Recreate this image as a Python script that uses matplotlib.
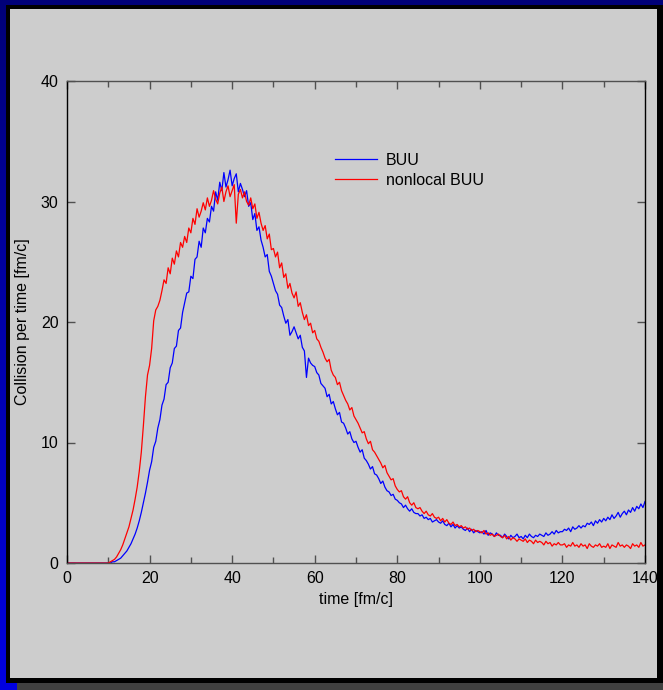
import numpy as np
import matplotlib
matplotlib.use("Agg")
import matplotlib.pyplot as plt
from matplotlib.patches import Rectangle
from matplotlib.colors import LinearSegmentedColormap

plt.rcParams['font.family'] = ['Liberation Sans', 'DejaVu Sans']

# time grid: t=0 then 10..140 step 0.5 fm/c
time = np.concatenate([[0.0], np.arange(10.0, 140.01, 0.5)])

buu = [0.0,
    0.0,0.0,0.1,0.1,0.2,0.3,0.4,0.6,0.8,1.0,
    1.3,1.6,2.0,2.4,2.9,3.5,4.2,5.0,5.8,6.7,
    7.7,8.4,9.6,10.1,11.2,11.9,13.1,13.6,14.8,15.0,
    16.2,16.6,17.8,18.0,19.3,19.5,20.8,21.6,22.4,22.5,
    23.8,23.6,25.2,25.4,26.7,26.2,27.8,27.4,28.6,28.3,
    29.6,29.2,30.8,30.1,31.6,30.9,32.4,31.2,31.8,32.6,
    31.3,31.9,32.3,30.8,31.5,31.0,30.4,30.9,29.6,29.9,
    28.5,29.0,27.6,27.9,26.8,26.2,25.4,25.6,24.2,23.8,
    23.2,22.6,22.3,21.4,21.2,20.5,19.9,20.2,18.9,19.2,
    19.6,19.1,18.6,18.9,17.9,17.6,15.4,17.0,16.6,16.4,
    16.3,15.8,15.6,14.9,14.7,14.5,13.8,14.0,13.2,13.4,
    12.8,12.3,12.5,11.7,11.6,11.2,10.7,10.9,10.3,10.0,
    10.1,9.6,9.2,9.4,8.7,8.5,8.2,7.8,8.0,7.4,
    7.3,7.0,6.6,6.8,6.3,6.0,5.9,5.6,5.7,5.3,
    5.2,5.0,4.9,4.6,4.8,4.5,4.3,4.5,4.2,4.1,
    4.1,3.9,4.0,3.7,3.8,3.6,3.7,3.4,3.5,3.6,
    3.4,3.3,3.5,3.2,3.1,3.3,3.0,3.2,2.9,3.1,
    2.9,3.0,2.8,2.7,2.9,2.6,2.8,2.5,2.7,2.6,
    2.5,2.6,2.4,2.7,2.3,2.5,2.4,2.2,2.5,2.3,
    2.3,2.1,2.4,2.2,2.0,2.3,2.1,2.2,2.4,2.1,
    2.2,2.0,2.3,2.1,2.4,2.2,2.1,2.3,2.2,2.4,
    2.3,2.2,2.5,2.3,2.4,2.6,2.4,2.7,2.5,2.6,
    2.6,2.8,2.7,2.9,2.6,3.0,2.8,2.9,3.1,2.9,
    3.1,3.0,3.3,3.2,3.4,3.1,3.5,3.3,3.6,3.4,
    3.7,3.5,3.8,3.6,4.0,3.7,3.9,4.2,3.8,4.1,
    4.3,4.0,4.4,4.2,4.6,4.3,4.7,4.5,4.9,4.6,
    5.1]

nonlocal_buu = [0.0,
    0.0,0.1,0.2,0.3,0.5,0.8,1.1,1.5,2.0,2.5,
    3.0,3.7,4.4,5.3,6.3,7.6,9.2,11.4,13.8,15.6,
    16.4,17.8,20.1,21.0,21.3,21.8,22.6,23.5,23.2,24.5,
    24.0,25.3,24.8,25.9,25.4,26.6,26.2,27.1,26.6,27.8,
    27.4,28.6,28.1,29.4,28.7,29.2,29.9,29.3,30.3,29.6,
    30.1,30.9,30.2,29.8,30.7,31.2,30.0,30.8,31.3,30.4,
    30.9,31.4,28.2,30.6,31.0,30.3,30.8,30.0,29.7,30.3,
    29.4,29.8,28.6,29.1,28.2,27.6,28.0,26.9,27.3,26.0,
    26.1,25.4,25.8,24.5,24.9,23.7,24.0,22.8,23.2,22.4,
    22.0,22.5,21.3,21.6,20.8,20.2,20.6,19.7,19.9,19.1,
    19.3,18.6,18.4,17.9,17.5,17.0,16.7,16.9,16.0,15.6,
    15.4,14.8,15.0,14.3,13.9,13.5,13.2,12.7,12.9,12.2,
    11.9,11.6,11.2,10.8,10.9,10.3,9.9,10.1,9.4,9.2,
    8.9,8.6,8.3,7.9,8.1,7.5,7.2,6.9,7.0,6.4,
    6.1,5.9,6.0,5.5,5.3,5.5,5.0,4.8,5.0,4.6,
    4.5,4.6,4.3,4.1,4.3,4.0,3.9,4.1,3.8,3.7,
    3.8,3.5,3.7,3.4,3.6,3.3,3.2,3.4,3.1,3.2,
    3.0,3.1,2.9,3.0,2.8,2.9,2.7,2.8,2.6,2.7,
    2.6,2.5,2.7,2.4,2.5,2.3,2.4,2.2,2.3,2.4,
    2.2,2.1,2.3,2.0,2.2,1.9,2.1,2.0,1.8,2.0,
    1.9,1.8,2.0,1.7,1.9,1.8,1.6,1.9,1.7,1.8,
    1.7,1.5,1.8,1.6,1.7,1.4,1.6,1.5,1.7,1.5,
    1.5,1.6,1.3,1.5,1.4,1.7,1.4,1.5,1.3,1.6,
    1.4,1.5,1.2,1.6,1.4,1.3,1.5,1.4,1.6,1.3,
    1.4,1.3,1.6,1.2,1.5,1.4,1.3,1.7,1.4,1.5,
    1.3,1.5,1.4,1.2,1.6,1.4,1.5,1.3,1.7,1.4,
    1.5]

series_labels = ["BUU", "nonlocal BUU"]
x_ticks = [0, 20, 40, 60, 80, 100, 120, 140]
y_ticks = [0, 10, 20, 30, 40]

W, H = 663, 690
fig = plt.figure(figsize=(W / 100, H / 100), dpi=100)
fig.patch.set_facecolor('#000078')

# background gradient (navy at top -> bright blue at bottom)
bg = fig.add_axes([0, 0, 1, 1], zorder=-10)
grad = np.linspace(0, 1, 256).reshape(-1, 1)
cmap = LinearSegmentedColormap.from_list('bg', ['#000078', '#0000e0'])
bg.imshow(grad, aspect='auto', cmap=cmap, extent=[0, 1, 0, 1], origin='upper')
bg.set_axis_off()

def px_rect(x0, y0, x1, y1, color):
    # pixel coords from top-left
    r = Rectangle((x0 / W, 1 - y1 / H), (x1 - x0) / W, (y1 - y0) / H,
                  transform=fig.transFigure, facecolor=color, edgecolor='none',
                  zorder=-5)
    fig.patches.append(r)

px_rect(17, 683, 663, 690, '#404040')
px_rect(6, 5, 663, 683, '#000000')
px_rect(10, 9, 657, 678, '#cdcdcd')

ax = fig.add_axes([67 / W, 1 - 563 / H, (645 - 67) / W, (563 - 81) / H])
ax.set_facecolor('none')

ax.plot(time, buu, color='#0000ff', lw=0.9, label=series_labels[0])
ax.plot(time, nonlocal_buu, color='#ff0000', lw=0.9, label=series_labels[1])

ax.set_xlim(0, 140)
ax.set_ylim(0, 40)
ax.set_xticks(x_ticks)
ax.set_yticks(y_ticks)
ax.set_xticks(np.arange(0, 141, 10), minor=True)
ax.tick_params(which='both', direction='in', top=True, right=True,
               labelsize=11.5, color='#505050', width=1.0, pad=6)
ax.tick_params(which='major', length=6)
ax.tick_params(which='minor', length=4)
for s in ['left', 'right']:
    ax.spines[s].set_color('black')
for s in ['top', 'bottom']:
    ax.spines[s].set_color('#505050')
for s in ax.spines.values():
    s.set_linewidth(1.0)

ax.set_xlabel('time [fm/c]', fontsize=11.5, labelpad=4)
ax.set_ylabel('Collision per time [fm/c]', fontsize=11.5, labelpad=8)

ax.legend(loc='upper left', bbox_to_anchor=((335 - 67) / 578, (563 - 153) / 482),
          frameon=False, fontsize=11.5, handlelength=2.6, handletextpad=0.6,
          labelspacing=0.3, borderpad=0, borderaxespad=0)

fig.savefig('out.png', dpi=100, facecolor=fig.get_facecolor())
